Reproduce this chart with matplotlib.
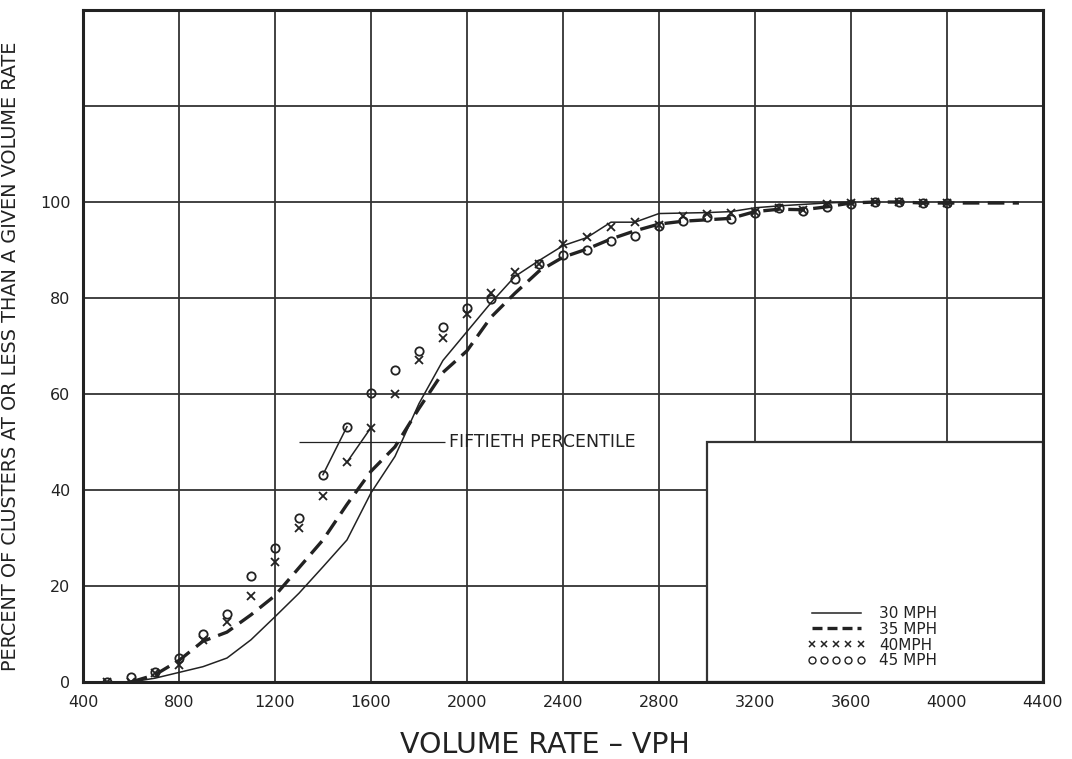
import numpy as np
import matplotlib
matplotlib.use("Agg")
from matplotlib import pyplot as plt
from matplotlib.lines import Line2D
from matplotlib.patches import Rectangle

# 30 MPH (solid curve)
x30 = [600, 700, 800, 900, 1000, 1100, 1200, 1300, 1400, 1500, 1600, 1700, 1800,
       1900, 2000, 2100, 2200, 2300, 2400, 2500, 2600, 2700, 2800, 2900, 3000,
       3100, 3200, 3300, 3400, 3500, 3600]
y30 = [0, 0.8, 2, 3.2, 5, 8.8, 13.6, 18.5, 24, 29.6, 39.4, 47, 58,
       67, 73, 79, 84.5, 87.8, 90.9, 92.6, 95.8, 95.8, 97.6, 97.7, 97.8,
       98, 98.8, 99.2, 99.5, 99.8, 100]

# 35 MPH (dashed curve)
x35 = [600, 700, 800, 900, 1000, 1100, 1200, 1300, 1400, 1500, 1600, 1700, 1800,
       1900, 2000, 2100, 2200, 2300, 2400, 2500, 2600, 2700, 2800, 2900, 3000,
       3100, 3200, 3300, 3400, 3500, 3600, 3700, 3800, 3900, 4000, 4100, 4200, 4300]
y35 = [0, 1.5, 4.5, 8.5, 10.4, 14, 18, 23.8, 29.6, 37, 43.9, 49, 57,
       64.5, 69, 76, 81, 85.6, 88.5, 90.2, 92.3, 94, 95.4, 96, 96.3,
       96.6, 98, 98.5, 98.4, 99, 99.8, 100, 100, 99.8, 99.8, 99.8, 99.8, 99.8]

# 40 MPH (x points)
x40 = [500, 600, 700, 800, 900, 1000, 1100, 1200, 1300, 1400, 1500, 1600, 1700,
       1800, 1900, 2000, 2100, 2200, 2300, 2400, 2500, 2600, 2700, 2800, 2900,
       3000, 3100, 3200, 3300, 3400, 3500, 3600, 3700, 3800, 3900, 4000]
y40 = [0, 0, 1.8, 3.5, 8.8, 12.6, 18, 25, 32, 38.7, 45.8, 53, 60,
       67, 71.7, 76.6, 81, 85.4, 87, 91.2, 92.8, 94.7, 95.9, 95.2, 97,
       97.5, 97.8, 98, 98.7, 98.4, 99.5, 99.8, 100, 100, 99.8, 99.8]

# 45 MPH (open circles)
x45 = [500, 600, 700, 800, 900, 1000, 1100, 1200, 1300, 1400, 1500, 1600, 1700,
       1800, 1900, 2000, 2100, 2200, 2300, 2400, 2500, 2600, 2700, 2800, 2900,
       3000, 3100, 3200, 3300, 3400, 3500, 3600, 3700, 3800, 3900, 4000]
y45 = [0, 1, 2, 5, 10, 14.2, 22, 27.9, 34.2, 43.2, 53.2, 60.3, 65,
       69, 74, 78, 79.9, 84, 87, 89, 90, 91.9, 93, 95, 96.1,
       96.8, 96.5, 97.8, 98.7, 98.2, 98.9, 99.5, 100, 100, 99.8, 99.8]

# short connecting strokes drawn on the original
seg40_x = [1500, 1600]
seg40_y = [45.8, 53]
seg45_x = [1400, 1500]
seg45_y = [43.2, 53.2]

xticks = [400, 800, 1200, 1600, 2000, 2400, 2800, 3200, 3600, 4000, 4400]
yticks = [0, 20, 40, 60, 80, 100, 120]
ylabels = ["0", "20", "40", "60", "80", "100", ""]

ink = "#222222"

fig = plt.figure(figsize=(10.72, 7.59), dpi=100)
ax = fig.add_axes([0.0774, 0.1014, 0.8955, 0.8854])

ax.set_xlim(400, 4400)
ax.set_ylim(0, 140)
ax.set_xticks(xticks)
ax.set_yticks(yticks)
ax.set_yticklabels(ylabels)
ax.tick_params(length=0, labelsize=11.5, colors=ink, pad=9)
ax.grid(True, color="#333333", linewidth=1.3)
ax.set_axisbelow(True)
for s in ax.spines.values():
    s.set_linewidth(2.2)
    s.set_color(ink)

# blank panel for the key (covers the grid)
ax.add_patch(Rectangle((3000, 0), 1400, 50, facecolor="white",
                       edgecolor="#333333", linewidth=1.6, zorder=1))

ax.plot(x30, y30, color=ink, linewidth=1.1, zorder=3)
ax.plot(x35, y35, color=ink, linewidth=2.4, dashes=(5, 2.5), zorder=3)
ax.plot(x40, y40, linestyle="none", marker="x", markersize=6,
        markeredgewidth=1.3, color=ink, zorder=4)
ax.plot(x45, y45, linestyle="none", marker="o", markersize=6,
        markerfacecolor="none", markeredgewidth=1.3, color=ink, zorder=4)
ax.plot(seg40_x, seg40_y, color=ink, linewidth=1.1, zorder=3)
ax.plot(seg45_x, seg45_y, color=ink, linewidth=1.1, zorder=3)

# fiftieth percentile reference
ax.hlines(50, 1300, 1910, color=ink, linewidth=0.9, zorder=3)
ax.text(1925, 50, "FIFTIETH PERCENTILE", fontsize=12.5, color=ink,
        va="center", ha="left", zorder=4)

handles = [
    Line2D([], [], color=ink, linewidth=1.1),
    Line2D([], [], color=ink, linewidth=2.4, dashes=(3, 1.5)),
    Line2D([], [], color=ink, linestyle="none", marker="x", markersize=5,
           markeredgewidth=1.1),
    Line2D([], [], color=ink, linestyle="none", marker="o", markersize=5,
           markerfacecolor="none", markeredgewidth=1.0),
]
labels = ["30 MPH", "35 MPH", "40MPH", "45 MPH"]
leg = ax.legend(handles, labels, loc="lower left", bbox_to_anchor=(0.74, 0.0),
                frameon=False, numpoints=5, handlelength=3.8, handletextpad=0.9,
                labelspacing=0.05, fontsize=11)
for t in leg.get_texts():
    t.set_color(ink)

ax.set_ylabel("PERCENT OF CLUSTERS AT OR LESS THAN A GIVEN VOLUME RATE",
              fontsize=13.9, color=ink)
ax.yaxis.set_label_coords(-0.066, 0.484)
ax.set_xlabel("VOLUME RATE \u2013 VPH", fontsize=20.5, color=ink)
ax.xaxis.set_label_coords(0.481, -0.073)

plt.savefig("out.png", dpi=100)
